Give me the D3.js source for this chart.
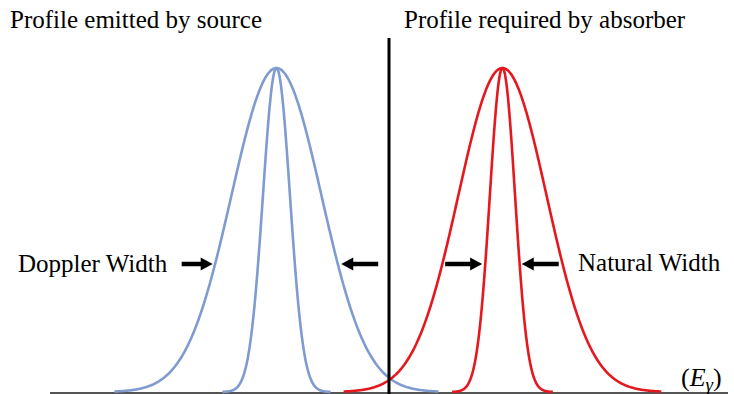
<!DOCTYPE html>
<html><head><meta charset="utf-8">
<script src="https://cdn.jsdelivr.net/npm/d3@7"></script>
<style>html,body{margin:0;padding:0;background:#fff;}svg{display:block;}</style>
</head><body>
<svg id="chart" width="734" height="394"></svg>
<script>
// ---- data ----
const profileNames = ["Profile emitted by source", "Profile required by absorber"];
const profileCenters = [-2.5, 2.52];       // energy offset (arb. units, Doppler sigma = 1)
const dopplerSigma = [1.0, 0.98];          // broad (Doppler) profile width
const naturalSigma = [0.3, 0.28];          // narrow (natural) profile width
const peakHeight = [1, 1];
const profileColors = ["#7f9bd0", "#e5171f"];
const widthLabels = ["Doppler Width", "Natural Width"];
const markerLevel = 0.39;                   // relative height of the width arrows
const axisLabel = "E";
const axisSub = "γ";

// ---- layout ----
const svg = d3.select("#chart");
const x = d3.scaleLinear().domain([-7.53, 7.53]).range([50, 728]);
const y = d3.scaleLinear().domain([0, 1]).range([392, 68]);

const gauss = (e, c, s, a) => a * Math.exp(-((e - c) ** 2) / (2 * s * s));

// baseline
svg.append("line").attr("x1", x(-7.53)).attr("x2", x(7.53))
  .attr("y1", 393).attr("y2", 393).attr("stroke", "#555").attr("stroke-width", 2);

const line = d3.line().x(d => x(d[0])).y(d => y(d[1])).curve(d3.curveBasis);

profileCenters.forEach((c, i) => {
  [dopplerSigma[i], naturalSigma[i]].forEach((s, k) => {
    const span = k === 0 ? 3.6 * s : 4.0 * s;
    const pts = d3.range(c - span, c + span + 1e-9, span / 200).map(e => [e, gauss(e, c, s, peakHeight[i])]);
    svg.append("path").attr("d", line(pts)).attr("fill", "none")
      .attr("stroke", profileColors[i]).attr("stroke-width", 2.6);
  });
});

// vertical divider
svg.append("line").attr("x1", x(0)).attr("x2", x(0)).attr("y1", 38).attr("y2", 394)
  .attr("stroke", "#000").attr("stroke-width", 3);

// arrows
function arrow(tipX, tailX, yy) {
  const dir = Math.sign(tipX - tailX);
  const head = 12;
  svg.append("line").attr("x1", tailX).attr("x2", tipX - dir * head + dir * 1)
    .attr("y1", yy).attr("y2", yy).attr("stroke", "#000").attr("stroke-width", 4.5);
  svg.append("path").attr("d", `M${tipX},${yy} L${tipX - dir * head},${yy - 6.5} L${tipX - dir * head},${yy + 6.5} Z`)
    .attr("fill", "#000");
}
const k = Math.sqrt(-2 * Math.log(markerLevel));
const arrowY = 264;
// Doppler width arrows (source)
const dL = x(profileCenters[0] - k * dopplerSigma[0]);
const dR = x(profileCenters[0] + k * dopplerSigma[0]);
arrow(dL - 2, dL - 33, arrowY);
arrow(dR + 3, dR + 40, arrowY);
// Natural width arrows (absorber)
const nL = x(profileCenters[1] - k * naturalSigma[1]);
const nR = x(profileCenters[1] + k * naturalSigma[1]);
arrow(nL - 3, nL - 40, arrowY);
arrow(nR + 2, nR + 39, arrowY);

// texts
const serif = "'Liberation Serif','Times New Roman',serif";
svg.append("text").attr("x", 10).attr("y", 28).attr("font-family", serif).attr("font-size", 25)
  .text(profileNames[0]);
svg.append("text").attr("x", 404).attr("y", 28).attr("font-family", serif).attr("font-size", 25)
  .text(profileNames[1]);
svg.append("text").attr("x", 18).attr("y", 272).attr("font-family", serif).attr("font-size", 25)
  .text(widthLabels[0]);
svg.append("text").attr("x", 578).attr("y", 271).attr("font-family", serif).attr("font-size", 25)
  .text(widthLabels[1]);

const t = svg.append("text").attr("x", 681).attr("y", 386).attr("font-family", serif).attr("font-size", 26);
t.append("tspan").text("(");
t.append("tspan").attr("font-style", "italic").text(axisLabel);
t.append("tspan").attr("font-style", "italic").attr("font-size", 19).attr("dy", 5).text(axisSub);
t.append("tspan").attr("dy", -5).text(")");
</script>
</body></html>
